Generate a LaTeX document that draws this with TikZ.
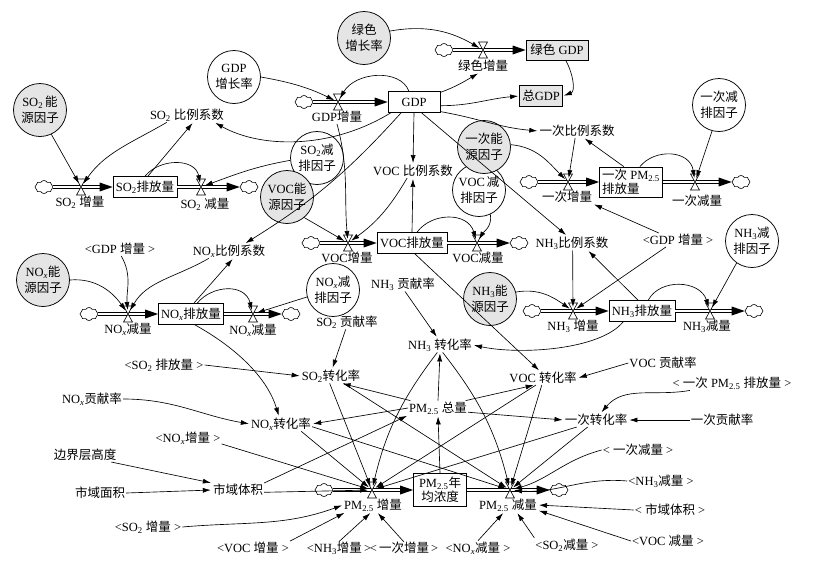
\documentclass[tikz,border=0pt]{standalone}
\usepackage{fontspec}
\setmainfont{Liberation Serif}
\newfontfamily\cjk{Noto Sans CJK SC}
\usetikzlibrary{arrows.meta,shapes.symbols,calc}
\newcommand\zh[1]{{\cjk #1}}
\newcommand\sotwo{SO\textsubscript{2}}
\newcommand\noxx{NO\textsubscript{\textit{x}}}
\newcommand\nhthree{NH\textsubscript{3}}
\newcommand\pmtf{PM\textsubscript{2.5}}
\newcommand\valve[1]{\draw[valveline] ($(#1)+(-4.5,-8)$) -- ($(#1)+(4.5,-8)$) -- (#1) -- cycle ($(#1)+(-4.5,8)$) -- ($(#1)+(4.5,8)$) -- (#1) -- cycle;}
\newcommand\flow[2]{\draw[pipe] (#1) -- ($(#2)+(-9,0)$); \fill ($(#2)+(-13,-4.5)$) -- (#2) -- ($(#2)+(-13,4.5)$) -- cycle;}
\begin{document}
\begin{tikzpicture}[x=1pt,y=-1pt, font=\fontsize{12.5}{14}\selectfont,
  lnk/.style={-{Latex[length=8pt,width=5pt]}, line width=0.65pt, shorten >=1pt},
  tov/.style={lnk, shorten >=4pt},
  pipe/.style={double=white, double distance=2.4pt, line width=0.6pt},
  valveline/.style={draw, fill=white, line width=0.6pt},
  cir/.style={circle, draw, minimum size=53pt, inner sep=0pt, align=center, line width=0.75pt, font=\fontsize{12.5}{16}\selectfont},
  gcir/.style={cir, fill=gray!20},
  stock/.style={draw, line width=0.75pt, inner sep=2pt, minimum height=21pt},
  gstock/.style={stock, fill=gray!20},
  var/.style={inner sep=1pt},
  cld/.style={cloud, draw, cloud puffs=8, cloud puff arc=120, aspect=1.3, minimum width=18pt, minimum height=13pt, inner sep=0pt, line width=0.6pt}
]
\fill[white] (0,0) rectangle (820,563);
\useasboundingbox (0,0) rectangle (820,563);
% circles
\node[cir] (vocR) at (479,190) {VOC\,\zh{减}\\\zh{排因子}};
\node[gcir] (priE) at (484,147) {\zh{一次能}\\\zh{源因子}};
\node[cir] (so2R) at (317,158) {\sotwo\zh{减}\\\zh{排因子}};
\node[gcir] (vocE) at (287,197) {VOC\zh{能}\\\zh{源因子}};
\node[gcir] (gGrowth) at (364,38) {\zh{绿色}\\\zh{增长率}};
\node[cir] (gdpRate) at (234,77) {GDP\\\zh{增长率}};
\node[gcir] (so2E) at (40,110) {\sotwo\,\zh{能}\\\zh{源因子}};
\node[cir] (priR) at (719,105) {\zh{一次减}\\\zh{排因子}};
\node[gcir] (noxE) at (43,280) {\noxx\zh{能}\\\zh{源因子}};
\node[cir] (noxR) at (333,290) {\noxx\zh{减}\\\zh{排因子}};
\node[gcir] (nh3E) at (490,299) {\nhthree\zh{能}\\\zh{源因子}};
\node[cir] (nh3R) at (752,241) {\nhthree\zh{减}\\\zh{排因子}};
% stocks
\node[stock, minimum width=52pt] (gdp) at (414,102) {GDP};
\node[gstock, minimum width=62pt, minimum height=20pt] (green) at (557,50) {\zh{绿色} GDP};
\node[gstock, minimum width=43pt] (total) at (541,96) {\zh{总}GDP};
\node[stock, minimum width=64pt] (so2S) at (145,187) {\sotwo\zh{排放量}};
\node[stock, minimum width=70pt] (vocS) at (412,243) {VOC\zh{排放量}};
\node[stock, minimum width=63pt, minimum height=30pt, align=left] (priS) at (631,182) {\zh{一次} \pmtf\\\zh{排放量}};
\node[stock, minimum width=65pt] (noxS) at (191,314) {\noxx\zh{排放量}};
\node[stock, minimum width=66pt] (nh3S) at (642,311) {\nhthree\zh{排放量}};
\node[stock, minimum width=53pt, minimum height=33pt, align=center] (pmS) at (440,490) {\pmtf\zh{年}\\\zh{均浓度}};
% clouds
\node[cld] (cG) at (444,50) {};
\node[cld] (cGDP) at (304,102) {};
\node[cld] (cS1) at (44,187) {};
\node[cld] (cS2) at (249,187) {};
\node[cld] (cV1) at (311,243) {};
\node[cld] (cV2) at (519,243) {};
\node[cld] (cP1) at (529,182) {};
\node[cld] (cP2) at (741,182) {};
\node[cld] (cN1) at (89,314) {};
\node[cld] (cN2) at (291,314) {};
\node[cld] (cH1) at (532,311) {};
\node[cld] (cH2) at (754,311) {};
\node[cld] (cM1) at (324,490) {};
\node[cld] (cM2) at (559,490) {};
% valves
\coordinate (vG) at (483,50);
\coordinate (vGDP) at (338,102);
\coordinate (vS1) at (81,187);
\coordinate (vS2) at (201,187);
\coordinate (vV1) at (348,243);
\coordinate (vV2) at (477,243);
\coordinate (vP1) at (568,182);
\coordinate (vP2) at (695,182);
\coordinate (vN1) at (128,314);
\coordinate (vN2) at (253,314);
\coordinate (vH1) at (573,311);
\coordinate (vH2) at (710,311);
\coordinate (vM1) at (372,490);
\coordinate (vM2) at (510,490);
% flows
\flow{cG.east}{green.west}
\flow{cGDP.east}{gdp.west}
\flow{cS1.east}{so2S.west}
\flow{so2S.east}{cS2.west}
\flow{cV1.east}{vocS.west}
\flow{vocS.east}{cV2.west}
\flow{cP1.east}{priS.west}
\flow{priS.east}{cP2.west}
\flow{cN1.east}{noxS.west}
\flow{noxS.east}{cN2.west}
\flow{cH1.east}{nh3S.west}
\flow{nh3S.east}{cH2.west}
\flow{cM1.east}{pmS.west}
\flow{pmS.east}{cM2.west}
\valve{vG}\valve{vGDP}\valve{vS1}\valve{vS2}\valve{vV1}\valve{vV2}\valve{vP1}
\valve{vP2}\valve{vN1}\valve{vN2}\valve{vH1}\valve{vH2}\valve{vM1}\valve{vM2}
% valve labels
\node[var] (lblG) at (483,66) {\zh{绿色增量}};
\node[var] (lblGDP) at (337,117) {GDP\zh{增量}};
\node[var] (lblS1) at (80,202) {\sotwo\ \zh{增量}};
\node[var] (lblS2) at (205,204) {\sotwo\ \zh{减量}};
\node[var] (lblV1) at (347,258) {VOC\zh{增量}};
\node[var] (lblV2) at (478,258) {VOC\zh{减量}};
\node[var] (lblP1) at (567,197) {\zh{一次增量}};
\node[var] (lblP2) at (697,201) {\zh{一次减量}};
\node[var] (lblN1) at (128,329) {\noxx\zh{减量}};
\node[var] (lblN2) at (253,330) {\noxx\zh{减量}};
\node[var] (lblH1) at (573,326) {\nhthree\ \zh{增量}};
\node[var] (lblH2) at (707,326) {\nhthree\zh{减量}};
\node[var] (lblM1) at (373,505) {\pmtf\ \zh{增量}};
\node[var] (lblM2) at (508,505) {\pmtf\ \zh{减量}};
% auxiliaries
\node[var] (so2K) at (187,115) {\sotwo\ \zh{比例系数}};
\node[var] (vocK) at (413,171) {VOC \zh{比例系数}};
\node[var] (priK) at (577,131) {\zh{一次比例系数}};
\node[var] (noxK) at (229,251) {\noxx\zh{比例系数}};
\node[var] (nh3K) at (572,243) {\nhthree\zh{比例系数}};
\node[var] (gdpS1) at (120,249) {<GDP \zh{增量} >};
\node[var] (gdpS2) at (678,240) {<GDP \zh{增量} >};
\node[var] (so2C) at (347,322) {\sotwo\ \zh{贡献率}};
\node[var] (nh3C) at (403,284) {\nhthree\ \zh{贡献率}};
\node[var] (nh3T) at (440,345) {\nhthree\ \zh{转化率}};
\node[var] (so2T) at (331,376) {\sotwo\zh{转化率}};
\node[var] (vocT) at (543,378) {VOC \zh{转化率}};
\node[var] (vocC) at (663,363) {VOC \zh{贡献率}};
\node[var] (priSh) at (732,383) {< \zh{一次} \pmtf\ \zh{排放量} >};
\node[var] (pmTot) at (438,408) {\pmtf\ \zh{总量}};
\node[var] (priT) at (596,420) {\zh{一次转化率}};
\node[var] (priC) at (722,420) {\zh{一次贡献率}};
\node[var] (noxC) at (92,399) {\noxx\zh{贡献率}};
\node[var] (so2Sh) at (164,365) {<\sotwo\ \zh{排放量} >};
\node[var] (noxT) at (281,424) {\noxx\zh{转化率}};
\node[var] (noxInSh) at (188,438) {<\noxx\zh{增量} >};
\node[var] (priOutSh) at (638,450) {< \zh{一次减量} >};
\node[var] (blh) at (85,455) {\zh{边界层高度}};
\node[var] (nh3OutSh) at (661,481) {<\nhthree\zh{减量} >};
\node[var] (area) at (100,493) {\zh{市域面积}};
\node[var] (vol) at (238,490) {\zh{市域体积}};
\node[var] (volSh) at (670,510) {< \zh{市域体积} >};
\node[var] (so2InSh) at (148,527) {<\sotwo\ \zh{增量} >};
\node[var] (vocOutSh) at (668,541) {<VOC \zh{减量} >};
\node[var] (so2OutSh) at (567,545) {<\sotwo\zh{减量} >};
\node[var] (vocInSh) at (253,548) {<VOC \zh{增量} >};
\node[var, inner sep=0pt] (nh3InSh) at (339,548) {<\nhthree\zh{增量}\,>};
\node[var, inner sep=0pt] (priInSh) at (404,548) {<\,\zh{一次增量}\,>};
\node[var] (noxOutSh) at (478,548) {<\noxx\zh{减量} >};
% links: GDP
\draw[tov] (gGrowth.15) to[out=10,in=150] (vG);
\draw[lnk] (gdp.20) to[out=20,in=-150] (lblG.-120);
\draw[lnk] (gdp.-8) to[out=0,in=185] (total.west);
\draw[lnk] (green.-50) to[out=-60,in=20] (total.east);
\draw[lnk] (gdp.-20) to[out=-10,in=175] (priK.west);
\draw[lnk] (gdp.south) -- (vocK.north);
\draw[lnk] (gdp.-155) .. controls (330,150) and (260,148) .. (so2K.-15);
\draw[lnk] (gdp.-140) to[bend left=8] (noxK.25);
\draw[lnk] (gdp.-55) -- (nh3K.125);
\draw[tov] (gdp.115) .. controls (400,68) and (355,72) .. (vGDP);
\draw[tov] (gdpRate.east) to[bend left=8] (vGDP);
\draw[tov] (lblGDP.south) to[out=-75,in=95] (vV1);
% SO2
\draw[tov] (so2E.-65) -- (vS1);
\draw[tov] (so2K.-160) to[out=-150,in=55] (vS1);
\draw[lnk] (so2S.75) -- (so2K.-50);
\draw[tov] (so2S.north) .. controls (160,158) and (195,158) .. (vS2);
\draw[tov] (so2R.185) to[out=190,in=20] (vS2);
% VOC
\draw[tov] (vocE.-50) -- (vV1);
\draw[tov] (vocK.-130) to[bend left=12] (vV1);
\draw[lnk] (vocS.north) -- (vocK.south);
\draw[tov] (vocS.65) .. controls (432,212) and (468,212) .. (vV2);
\draw[tov] (vocR.-65) to[out=-80,in=60] (vV2);
% primary
\draw[tov] (priK.-105) -- (vP1);
\draw[tov] (priE.5) to[out=-5,in=135] (vP1);
\draw[lnk] (priS.115) -- (priK.-45);
\draw[tov] (priS.60) .. controls (655,148) and (690,150) .. (vP2);
\draw[tov] (priR.-105) -- (vP2);
\draw[lnk] (gdpS2.160) -- (lblP1.-15);
% NH3
\draw[tov] (nh3K.-85) -- (vH1);
\draw[tov] (gdpS2.-150) -- (vH1);
\draw[lnk] (nh3S.110) -- (nh3K.-25);
\draw[tov] (nh3E.15) to[out=10,in=145] (vH1);
\draw[tov] (nh3S.60) .. controls (660,278) and (700,280) .. (vH2);
\draw[tov] (nh3R.-125) -- (vH2);
\draw[lnk] (nh3S.-150) .. controls (600,350) and (520,355) .. (nh3T.east);
% NOx
\draw[tov] (noxE.east) to[out=5,in=125] (vN1);
\draw[tov] (gdpS1.-80) to[out=-60,in=95] (vN1);
\draw[tov] (noxK.-160) to[out=-150,in=60] (vN1);
\draw[lnk] (noxS.75) -- (noxK.-60);
\draw[tov] (noxS.60) .. controls (212,285) and (245,283) .. (vN2);
\draw[tov] (noxR.195) -- (vN2);
\draw[lnk] (noxS.-70) .. controls (240,350) and (268,380) .. (noxT.105);
% lower part
\draw[lnk] (so2C.-100) -- (so2T.80);
\draw[lnk] (so2Sh.east) -- (so2T.west);
\draw[lnk] (nh3C.-75) -- (nh3T.110);
\draw[lnk] (vocS.-75) -- (vocT.115);
\draw[lnk] (vocC.west) -- (vocT.east);
\draw[lnk] (noxC.east) to[out=0,in=170] (noxT.west);
\draw[lnk] (pmTot.165) -- (so2T.-35);
\draw[lnk] (pmTot.west) -- (noxT.east);
\draw[lnk] (pmTot.15) -- (vocT.-140);
\draw[lnk] (pmTot.-8) -- (priT.west);
\draw[lnk] (pmTot.north) -- (nh3T.south);
\draw[lnk] (pmS.north) -- (pmTot.south);
\draw[lnk] (priSh.190) to[out=190,in=50] (priT.55);
\draw[lnk] (priC.west) -- (priT.east);
\draw[lnk] (blh.-15) -- (vol.165);
\draw[lnk] (area.east) -- (vol.west);
\draw[lnk] (vol.15) -- (pmTot.south west);
\draw[tov] (vol.-5) -- (vM1);
\draw[tov] (noxInSh.-10) -- (vM1);
\draw[lnk] (so2InSh.east) to[out=5,in=200] (lblM1.west);
\draw[lnk] (vocInSh.north east) -- (lblM1.-165);
\draw[lnk] (nh3InSh.north) -- (lblM1.-105);
\draw[lnk] (priInSh.north) -- (lblM1.-60);
\draw[tov] (so2T.-100) -- (vM1);
\draw[tov] (so2T.-30) -- (vM2);
\draw[tov] (noxT.-20) -- (vM1);
\draw[tov] (noxT.-5) -- (vM2);
\draw[tov] (nh3T.-110) to[bend right=12] (vM1);
\draw[tov] (nh3T.-70) to[bend left=12] (vM2);
\draw[tov] (vocT.-135) -- (vM1);
\draw[tov] (vocT.-100) -- (vM2);
\draw[tov] (priT.-160) -- (vM1);
\draw[tov] (priT.-140) -- (vM2);
\draw[lnk] (noxOutSh.north) -- (lblM2.-120);
\draw[lnk] (so2OutSh.north west) -- (lblM2.-40);
\draw[lnk] (vocOutSh.west) -- (lblM2.-10);
\draw[lnk] (volSh.west) -- (lblM2.east);
\draw[tov] (nh3OutSh.west) to[out=175,in=-5] (vM2);
\draw[tov] (priOutSh.west) to[out=195,in=15] (vM2);
\end{tikzpicture}
\end{document}
